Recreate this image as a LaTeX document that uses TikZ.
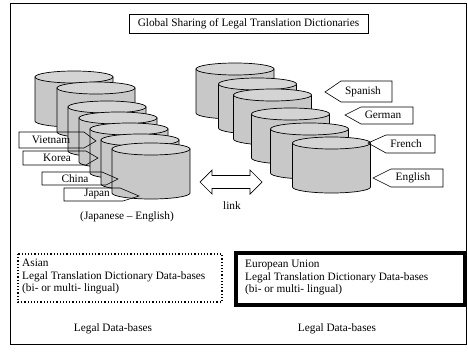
\documentclass[tikz,border=0pt]{standalone}
\usepackage{fontspec}
\setmainfont{Liberation Serif}
\definecolor{cylgray}{RGB}{200,200,200}
\definecolor{cyltopgray}{RGB}{212,212,212}
% database cylinder: name, centre x, top-ellipse centre y
\newcommand\dbcyl[3]{%
  \filldraw[cylbody] (#2-39,#3) -- (#2-39,#3+44)
     arc[start angle=180,end angle=0,x radius=39,y radius=6] -- (#2+39,#3) -- cycle;
  \filldraw[cyltop] (#2,#3) ellipse[x radius=39,y radius=6];
  \coordinate (#1) at (#2,#3);
}
\begin{document}
\begin{tikzpicture}[x=1pt,y=-1pt,
  font=\fontsize{11.3}{12.5}\selectfont,
  cylbody/.style={fill=cylgray,draw=black,line width=0.7pt},
  cyltop/.style={fill=cyltopgray,draw=black,line width=0.7pt},
  tag/.style={draw=black,line width=0.6pt},
  txt/.style={inner sep=0pt},
  ]
\useasboundingbox (0,0) rectangle (468,353);

% outer frame
\draw[line width=0.9pt] (10,3) rectangle (466,344);

% title
\node[draw,line width=0.7pt,minimum width=239pt,minimum height=19pt,inner sep=0pt]
  (title) at (248.5,23.5) {Global Sharing of Legal Translation Dictionaries};

% Asian dictionary stack
\dbcyl{a1}{74}{77}
\dbcyl{a2}{96}{88}
\dbcyl{a3}{107}{107}
\dbcyl{a4}{118}{118}
\dbcyl{a5}{129}{129}
\dbcyl{a6}{140}{140}
\dbcyl{a7}{151}{149}

% language tags pointing into the Asian stack
\draw[tag] (19,132) -- (84,132) -- (96,141) -- (84,148) -- (19,148) -- cycle;
\node[txt] (vietnam) at (51,140) {Vietnam};
\draw[tag] (23,151) -- (86,151) -- (98,158) -- (86,165) -- (23,165) -- cycle;
\node[txt] (korea) at (57,158) {Korea};
\draw[tag] (42,172) -- (102,172) -- (118,179) -- (106,185) -- (42,185) -- cycle;
\node[txt] (china) at (75,179) {China};
\draw[tag] (64,188) -- (120,188) -- (139,196) -- (123,201) -- (64,201) -- cycle;
\node[txt] (japan) at (97,194.5) {Japan};

\node[txt] (jaen) at (127,217) {(Japanese -- English)};

% European dictionary stack
\dbcyl{e1}{235}{69}
\dbcyl{e2}{257.5}{84}
\dbcyl{e3}{272.5}{95}
\dbcyl{e4}{290.5}{114}
\dbcyl{e5}{309.5}{129}
\dbcyl{e6}{331.5}{143}

% language tags pointing into the European stack
\draw[tag] (325,92) -- (341,81) -- (392,81) -- (392,102) -- (341,102) -- cycle;
\node[txt] (spanish) at (363,92) {Spanish};
\draw[tag] (345,115) -- (361,107) -- (413,107) -- (413,124) -- (361,124) -- cycle;
\node[txt] (german) at (383,115) {German};
\draw[tag] (368,143) -- (386,135) -- (435,135) -- (435,153) -- (386,153) -- cycle;
\node[txt] (french) at (406,144) {French};
\draw[tag] (373,178) -- (391,169) -- (443,169) -- (443,187) -- (391,187) -- cycle;
\node[txt] (english) at (413,178) {English};

% link between the two stacks
\draw[line width=0.7pt,fill=white] (200,182) -- (212,170) -- (212,175.5) -- (250,175.5)
  -- (250,170) -- (262,182) -- (250,194) -- (250,188.5) -- (212,188.5) -- (212,194) -- cycle;
\node[txt] (link) at (232,206) {link};

% regional database boxes
\draw[line width=1.2pt,dotted] (18,254) rectangle (222,302);
\node[txt,anchor=north west,align=left] (asian) at (22,259)
  {Asian\\Legal Translation Dictionary Data-bases\\(bi- or multi- lingual)};
\draw[line width=4pt] (236,253) rectangle (465,305);
\node[txt,anchor=north west,align=left] (eu) at (245,260)
  {European Union\\Legal Translation Dictionary Data-bases\\(bi- or multi- lingual)};

\node[txt] (ldbl) at (113,329) {Legal Data-bases};
\node[txt] (ldbr) at (337,329) {Legal Data-bases};
\end{tikzpicture}
\end{document}
